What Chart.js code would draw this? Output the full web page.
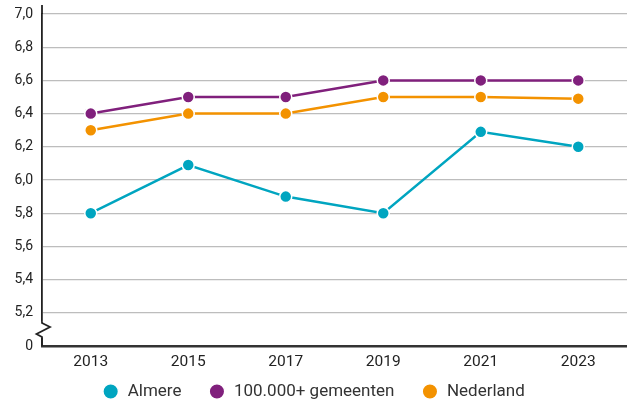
<!DOCTYPE html>
<html>
<head>
<meta charset="utf-8">
<script src="https://cdn.jsdelivr.net/npm/chart.js@4.4.1/dist/chart.umd.min.js"></script>
<style>
  html, body { margin: 0; padding: 0; background: #fff; }
  #wrap { width: 627px; height: 404px; }
</style>
</head>
<body>
<div id="wrap"><canvas id="chart"></canvas></div>
<script>
const jaren = ['2013', '2015', '2017', '2019', '2021', '2023'];
const almere = [5.8, 6.09, 5.9, 5.8, 6.29, 6.2];
const gemeenten100k = [6.4, 6.5, 6.5, 6.6, 6.6, 6.6];
const nederland = [6.3, 6.4, 6.4, 6.5, 6.5, 6.49];

const TEAL = '#00A5C0';
const PAARS = '#80207C';
const ORANJE = '#F39200';

function reeks(label, data, kleur) {
    return {
        label,
        data,
        borderColor: kleur,
        backgroundColor: kleur,
        borderWidth: 2.5,
        pointRadius: 6,
        pointHoverRadius: 6,
        pointBackgroundColor: kleur,
        pointBorderColor: '#fff',
        pointBorderWidth: 1.5,
        tension: 0
    };
}

// as-onderbreking tussen 0 en 5,2 en verlengde y-as boven 7,0
const asBreuk = {
    id: 'asBreuk',
    afterDraw(chart) {
        const { ctx } = chart;
        const y = chart.scales.y;
        const x0 = y.right;
        const y1 = y.getPixelForValue(5.145);
        const yBot = y.getPixelForValue(5.0);
        ctx.save();
        ctx.fillStyle = '#fff';
        ctx.fillRect(x0 - 3, y1, 6, 16);
        ctx.strokeStyle = '#222';
        ctx.lineWidth = 1.8;
        ctx.beginPath();
        ctx.moveTo(x0, y1);
        ctx.lineTo(x0, y1 + 1);
        ctx.lineTo(x0 + 8, y1 + 5);
        ctx.lineTo(x0 - 5.5, y1 + 12);
        ctx.lineTo(x0, y1 + 15);
        ctx.lineTo(x0, yBot);
        ctx.stroke();
        ctx.beginPath();
        ctx.moveTo(x0, y.top - 9);
        ctx.lineTo(x0, y.top);
        ctx.stroke();
        ctx.restore();
    }
};

new Chart(document.getElementById('chart'), {
    type: 'line',
    data: {
        labels: jaren,
        datasets: [
            reeks('Almere', almere, TEAL),
            reeks('100.000+ gemeenten', gemeenten100k, PAARS),
            reeks('Nederland', nederland, ORANJE)
        ]
    },
    options: {
        responsive: true,
        maintainAspectRatio: false,
        animation: false,
        layout: { autoPadding: false, padding: { top: 14, right: 0, left: 0, bottom: 0 } },
        plugins: {
            legend: {
                position: 'bottom',
                maxHeight: 48,
                labels: {
                    usePointStyle: true,
                    boxWidth: 19,
                    boxHeight: 11,
                    padding: 27,
                    color: '#333',
                    font: { family: 'Roboto', size: 17 }
                }
            },
            tooltip: { enabled: false }
        },
        scales: {
            x: {
                offset: true,
                afterFit(scale) {
                    scale.height = 10;
                    // labels mogen onder de smalle asstrook doorlopen
                    scale._computeLabelArea = () => undefined;
                },
                grid: { display: false, drawTicks: false },
                border: { display: true, color: '#333', width: 2.5 },
                ticks: {
                    color: '#222',
                    padding: 7,
                    font: { family: 'Roboto', size: 15.5 }
                }
            },
            y: {
                min: 5,
                max: 7,
                afterFit(scale) {
                    scale.width = 42;
                    scale.paddingTop = 0;
                    scale.paddingBottom = 0;
                },
                grid: { color: '#BDBDBD', lineWidth: 1.2, drawTicks: false },
                border: { display: true, color: '#222', width: 1.8 },
                ticks: {
                    stepSize: 0.2,
                    padding: 9,
                    color: '#222',
                    font: { family: 'Roboto', size: 14 },
                    callback: v => Math.abs(v - 5) < 1e-6 ? '0' : v.toFixed(1).replace('.', ',')
                }
            }
        }
    },
    plugins: [asBreuk]
});
</script>
</body>
</html>
